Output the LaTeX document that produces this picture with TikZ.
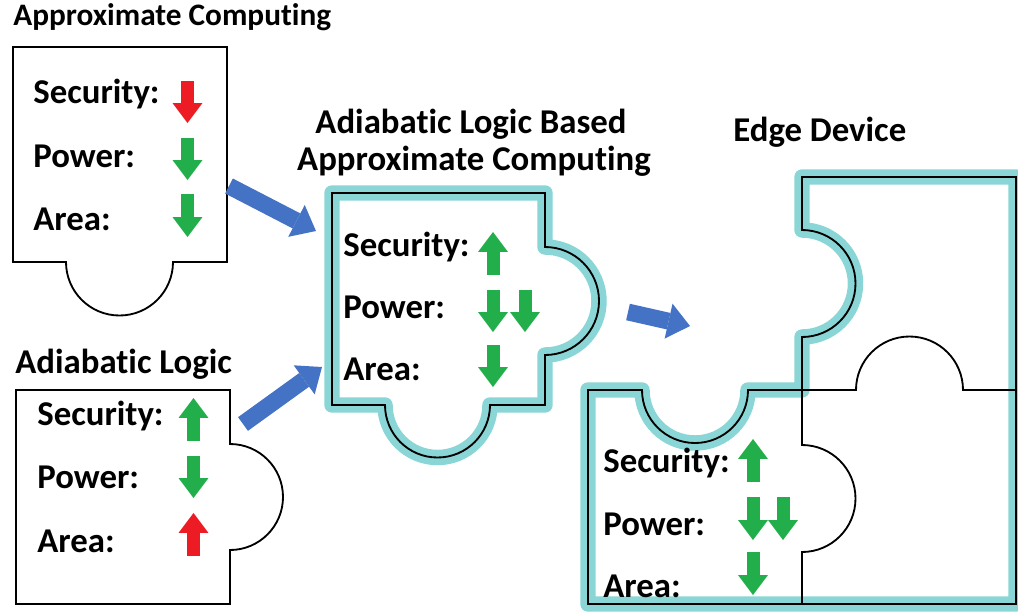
\documentclass[tikz,border=0pt]{standalone}
\usepackage{fontspec}
\setmainfont{Carlito}[Ligatures=NoCommon]
\usetikzlibrary{arrows.meta}
\definecolor{tealband}{RGB}{138,214,214}
\definecolor{flowblue}{RGB}{68,114,196}
\definecolor{goodgreen}{RGB}{34,174,74}
\definecolor{badred}{RGB}{237,28,36}

\begin{document}
\begin{tikzpicture}[x=0.02cm,y=-0.02cm,
    lbl/.style={anchor=base west,inner sep=0pt,font=\fontsize{19.8}{23}\selectfont\bfseries},
    ttl/.style={lbl},
    band/.style={draw=tealband,line width=8.8pt,line join=round},
    piece/.style={draw=black,line width=1.05pt},
    flow/.style={draw=flowblue,line width=9.6pt,-{Triangle[length=12.5pt,width=20.4pt,line width=0pt]}},
    tipgood/.style={draw=goodgreen,line width=7.4pt,-{Triangle[length=11.3pt,width=17pt,line width=0pt]}},
    tipbad/.style={tipgood,draw=badred}]
    \useasboundingbox (0,0) rectangle (1018,613);
    % teal bands
    \draw[band](332,193)--(545,193)--(545,247)arc(270:450:54)--(545,405)--(490,405)arc(0:180:52.5)--(332,405)--cycle;
    \draw[band](588,390)--(642,390)arc(180:0:53)--(802,390)--(802,337)arc(90:-90:53.5)--(802,177)--(1016,177)--(1016,604)--(588,604)--cycle;
    % pieces
    \draw[piece](13,47)--(227,47)--(227,262)--(173,262)arc(0:180:53.5)--(13,262)--cycle;
    \draw[piece](16,390)--(230,390)--(230,444)arc(270:450:53)--(230,604)--(16,604)--cycle;
    \draw[piece](332,193)--(545,193)--(545,247)arc(270:450:54)--(545,405)--(490,405)arc(0:180:52.5)--(332,405)--cycle;
    \draw[piece](802,177)--(1016,177)--(1016,390)--(963,390)arc(0:-180:53.5)--(802,390)--(802,337)arc(90:-90:53.5)--cycle;
    \draw[piece](588,390)--(642,390)arc(180:0:53)--(802,390)--(802,445)arc(270:450:53.5)--(802,604)--(588,604)--cycle;
    \draw[piece](1016,390)--(1016,604)--(802,604);
    % titles
    \node[ttl,font=\fontsize{17.8}{21}\selectfont\bfseries](tac) at (13,25){Approximate Computing};
    \node[ttl](tal) at (15,373){Adiabatic Logic};
    \node[ttl,anchor=base](talba) at (471,133){Adiabatic Logic Based};
    \node[ttl,anchor=base](talbb) at (474,170){Approximate Computing};
    \node[ttl](ted) at (733,141){Edge Device};
    % approximate computing
    \node[lbl](sec1) at (33,103){Security:};
    \node[lbl](pow1) at (33,167){Power:};
    \node[lbl](are1) at (33,230){Area:};
    \draw[tipbad](187.5,81)--(187.5,123);
    \draw[tipgood](187.5,138)--(187.5,180);
    \draw[tipgood](187.5,194)--(187.5,237);
    % adiabatic logic
    \node[lbl](sec2) at (37,425){Security:};
    \node[lbl](pow2) at (37,488){Power:};
    \node[lbl](are2) at (37,552){Area:};
    \draw[tipgood](193.5,441)--(193.5,398);
    \draw[tipgood](193.5,456)--(193.5,498);
    \draw[tipbad](193.5,556)--(193.5,513);
    % combined
    \node[lbl](sec3) at (343,256){Security:};
    \node[lbl](pow3) at (343,318){Power:};
    \node[lbl](are3) at (343,380){Area:};
    \draw[tipgood](493,275)--(493,232);
    \draw[tipgood](493,290)--(493,332);
    \draw[tipgood](525,290)--(525,332);
    \draw[tipgood](493,345)--(493,387);
    % edge device
    \node[lbl](sec4) at (603,472){Security:};
    \node[lbl](pow4) at (603,535){Power:};
    \node[lbl](are4) at (603,597){Area:};
    \draw[tipgood](753,482)--(753,439);
    \draw[tipgood](753,497)--(753,540);
    \draw[tipgood](783,497)--(783,540);
    \draw[tipgood](753,552)--(753,595);
    % flow arrows
    \coordinate(acout) at (229,186);
    \coordinate(alout) at (243,424);
    \coordinate(albain1) at (316,231);
    \coordinate(albain2) at (322,367);
    \coordinate(albaout) at (628,312);
    \coordinate(edin) at (690,326);
    \draw[flow](acout)--(albain1);
    \draw[flow](alout)--(albain2);
    \draw[flow](albaout)--(edin);
\end{tikzpicture}
\end{document}
